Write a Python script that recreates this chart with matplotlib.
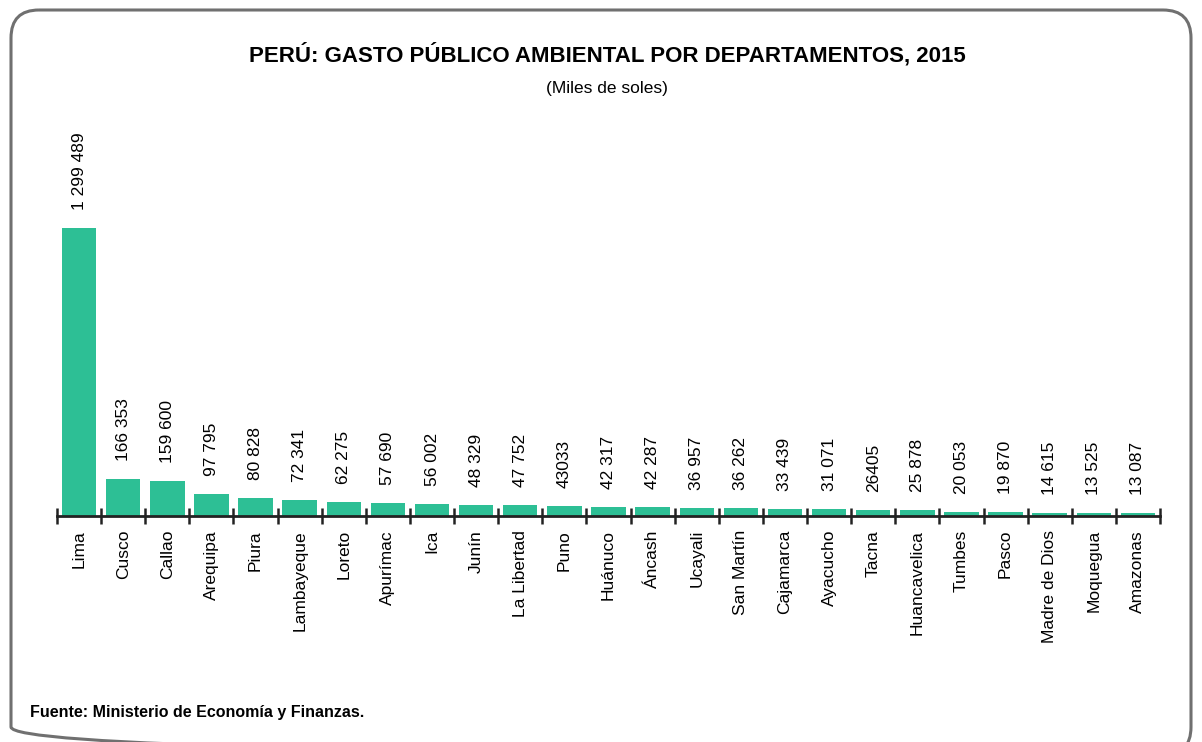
import matplotlib
matplotlib.use("Agg")
import matplotlib.pyplot as plt
from matplotlib.patches import FancyBboxPatch
from matplotlib.ticker import FixedLocator, NullFormatter

plt.rcParams['font.family'] = ['Liberation Sans Narrow', 'Liberation Sans', 'DejaVu Sans']

departamentos = ["Lima", "Cusco", "Callao", "Arequipa", "Piura", "Lambayeque", "Loreto",
                 "Apurímac", "Ica", "Junín", "La Libertad", "Puno", "Huánuco", "Áncash",
                 "Ucayali", "San Martín", "Cajamarca", "Ayacucho", "Tacna", "Huancavelica",
                 "Tumbes", "Pasco", "Madre de Dios", "Moquegua", "Amazonas"]
gasto = [1299489, 166353, 159600, 97795, 80828, 72341, 62275, 57690, 56002, 48329,
         47752, 43033, 42317, 42287, 36957, 36262, 33439, 31071, 26405, 25878,
         20053, 19870, 14615, 13525, 13087]
etiquetas = ["1 299 489", "166 353", "159 600", "97 795", "80 828", "72 341", "62 275",
             "57 690", "56 002", "48 329", "47 752", "43033", "42 317", "42 287",
             "36 957", "36 262", "33 439", "31 071", "26405", "25 878", "20 053",
             "19 870", "14 615", "13 525", "13 087"]

title = "PERÚ: GASTO PÚBLICO AMBIENTAL POR DEPARTAMENTOS, 2015"
subtitle = "(Miles de soles)"
source = "Fuente: Ministerio de Economía y Finanzas."

W, H = 1202, 742
fig = plt.figure(figsize=(W / 100, H / 100), dpi=100)

# background frame
bg = fig.add_axes([0, 0, 1, 1])
bg.set_xlim(0, W)
bg.set_ylim(H, 0)
bg.axis('off')
bg.add_patch(FancyBboxPatch((11, 10), 1180, 745, boxstyle="round,pad=0,rounding_size=28",
                            fill=False, edgecolor='#707070', linewidth=2.2))

# main axes: baseline at y=516 px, Lima top at 228 px
left_px, right_px, base_px, top_px = 57, 1160, 516, 130
ax = fig.add_axes([left_px / W, (H - base_px) / H, (right_px - left_px) / W, (base_px - top_px) / H])
ax.patch.set_alpha(0)
n = len(gasto)
x = list(range(n))
ax.bar(x, gasto, width=0.78, color='#2dbf95')
ax.set_xlim(-0.5, n - 0.5)
ax.set_ylim(0, max(gasto) * (base_px - top_px) / (base_px - 228))

for s in ['top', 'right', 'left']:
    ax.spines[s].set_visible(False)
ax.spines['bottom'].set_linewidth(2)
ax.spines['bottom'].set_color('#222222')
ax.set_yticks([])

ax.xaxis.set_major_locator(FixedLocator(x))
ax.set_xticklabels(departamentos, rotation=90, fontsize=12.5, va='top', ha='center')
ax.tick_params(axis='x', which='major', length=0, pad=10)
ax.xaxis.set_minor_locator(FixedLocator([i - 0.5 for i in range(n + 1)]))
ax.xaxis.set_minor_formatter(NullFormatter())
ax.tick_params(axis='x', which='minor', length=12, width=1.8, direction='inout', color='#222222')

for xi, v, lab in zip(x, gasto, etiquetas):
    ax.annotate(lab, (xi, v), xytext=(0, 13), textcoords='offset points',
                rotation=90, ha='center', va='bottom', fontsize=12.5)

fig.text(607 / W, 1 - 55 / H, title, ha='center', va='center', fontsize=16, fontweight='bold')
fig.text(607 / W, 1 - 88 / H, subtitle, ha='center', va='center', fontsize=12.5)
fig.text(30 / W, 1 - 712 / H, source, ha='left', va='center', fontsize=11.5, fontweight='bold')

fig.savefig("out.png", dpi=100)
